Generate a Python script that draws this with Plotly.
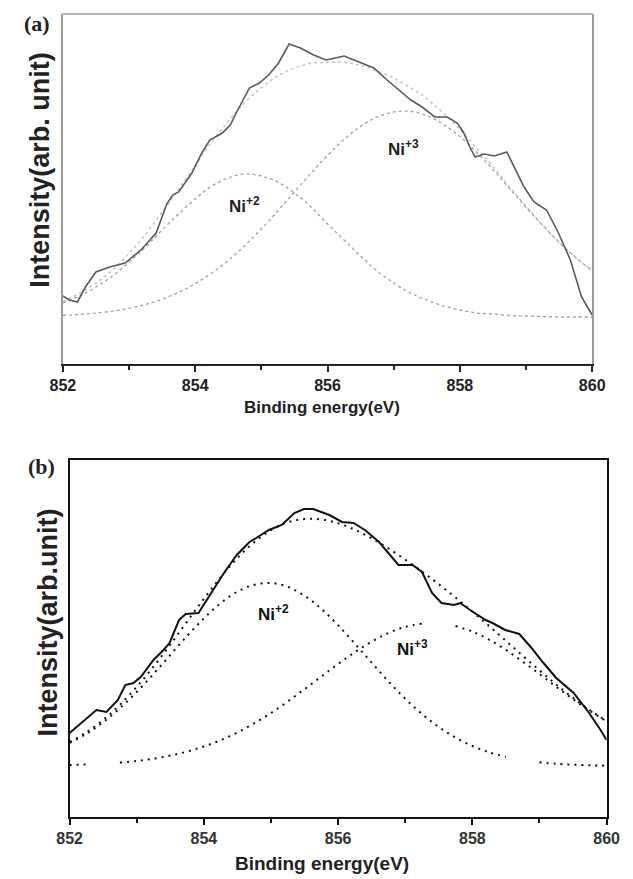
import plotly.graph_objects as go

# ---------------- data ----------------
energy_grid = [852.0, 852.25, 852.5, 852.75, 853.0, 853.25, 853.5, 853.75,
               854.0, 854.25, 854.5, 854.75, 855.0, 855.25, 855.5, 855.75,
               856.0, 856.25, 856.5, 856.75, 857.0, 857.25, 857.5, 857.75,
               858.0, 858.25, 858.5, 858.75, 859.0, 859.25, 859.5, 859.75, 860.0]

# panel (a)
a_exp_x = [852.00, 852.10, 852.22, 852.35, 852.50, 852.71, 852.94, 853.18, 853.41,
           853.57, 853.66, 853.75, 853.95, 854.10, 854.22, 854.41, 854.53, 854.62,
           854.82, 854.97, 855.11, 855.26, 855.42, 855.59, 855.79, 855.98, 856.25,
           856.50, 856.70, 856.90, 857.26, 857.43, 857.62, 857.81, 857.96, 858.06,
           858.15, 858.23, 858.37, 858.52, 858.71, 858.97, 859.12, 859.31, 859.49,
           859.67, 859.84, 860.00]
a_exp_y = [68, 64, 62, 78, 92, 97, 101, 114, 131,
           160, 169, 172, 191, 211, 224, 231, 239, 251,
           276, 281, 289, 301, 320, 316, 309, 304, 308,
           301, 296, 284, 264, 257, 247, 247, 241, 231,
           217, 207, 210, 208, 212, 177, 162, 154, 131,
           104, 67, 49]
a_ni2 = [61, 68, 77, 88, 102, 117, 134, 150, 165, 178, 186, 190, 188, 182, 171, 157,
         140, 124, 108, 93, 81, 71, 64, 58, 54, 51, 50, 48.5, 48, 47.5, 47, 47, 47]
a_ni3 = [48.6, 49.5, 50.9, 52.9, 55.7, 59.6, 64.8, 71.7, 80.3, 91, 103.7, 118.5, 135.2,
         153.1, 172, 190.8, 208.5, 224.6, 237.6, 247, 252, 252.6, 248.4, 239.8, 227.4,
         212, 194.5, 175.7, 156.8, 138.7, 121.7, 106.5, 93.4]
a_fit = [62.6, 70.5, 80.9, 93.9, 110.7, 129.6, 151.8, 174.7, 198.3, 222, 242.7, 261.5,
         276.2, 288.1, 296, 300.8, 301.5, 301.6, 298.6, 293, 286, 276.6, 265.4, 250.8,
         234.4, 216, 197.5, 177.2, 157.8, 139.2, 121.7, 106.5, 93.4]

# panel (b)
b_exp_x = [852.00, 852.17, 852.40, 852.55, 852.72, 852.83, 852.95, 853.06, 853.25,
           853.40, 853.49, 853.63, 853.73, 853.92, 854.11, 854.30, 854.49, 854.68,
           854.78, 854.97, 855.16, 855.35, 855.49, 855.63, 855.87, 856.06, 856.23,
           856.40, 856.61, 856.90, 857.11, 857.25, 857.40, 857.54, 857.73, 857.82,
           858.01, 858.20, 858.30, 858.49, 858.70, 858.87, 859.06, 859.25, 859.51,
           859.74, 859.91, 860.00]
b_exp_y = [84, 94, 107, 105, 117, 132, 134, 140, 157,
           167, 174, 197, 203, 204, 224, 244, 262, 275,
           279, 287, 292, 304, 308, 308, 302, 295, 294,
           287, 275, 252, 252, 245, 224, 214, 212, 214,
           205, 197, 194, 187, 183, 170, 154, 139, 124,
           104, 87, 77]
b_ni2 = [74.1, 83.2, 94.8, 108.8, 125, 143, 162, 181, 198.6, 213.8, 225.4, 232.2, 234,
         230.2, 221.2, 208.2, 191.8, 173.4, 154.3, 135.6, 118.3, 103, 90, 79.4, 71,
         64.7, 60.1, None, 54.7, 53.2, 52.3, 51.7, 51.3]
b_ni3 = [51.9, 52.5, None, 54.4, 56.1, 58.3, 61.4, 65.4, 70.5, 76.8, 84.5, 93.6, 103.9,
         115.5, 127.8, 140.4, 153, 164.8, 175.4, 184, 190.1, 193.4, None, 191, 185.4,
         177.3, 167.1, 155.4, 143, 130.2, 117.9, 106.2, 95.6]
b_fit = [75, 84.7, 97.1, 112.2, 130.1, 150.3, 172.4, 195.4, 218.1, 239.6, 258.9, 274.8,
         286.9, 294.7, 298, 297.6, 293.8, 287.2, 278.7, 268.6, 257.4, 245.4, 232.8,
         219.4, 205.4, 191, 176.2, 161.3, 146.7, 132.4, 119.2, 106.9, 95.9]

tick_vals = [852, 854, 856, 858, 860]
tick_text = ["852", "854", "856", "858", "860"]
minor_vals = [853, 855, 857, 859]

# ---------------- figure ----------------
fig = go.Figure()

# (a)
fig.add_trace(go.Scatter(x=energy_grid, y=a_ni2, mode="lines", xaxis="x", yaxis="y",
                         line=dict(color="#a0a0a0", width=1.3, dash="dot", shape="spline")))
fig.add_trace(go.Scatter(x=energy_grid, y=a_ni3, mode="lines", xaxis="x", yaxis="y",
                         line=dict(color="#a0a0a0", width=1.3, dash="dot", shape="spline")))
fig.add_trace(go.Scatter(x=energy_grid, y=a_fit, mode="lines", xaxis="x", yaxis="y",
                         line=dict(color="#bdbdbd", width=1.3, dash="dot", shape="spline")))
fig.add_trace(go.Scatter(x=a_exp_x, y=a_exp_y, mode="lines", xaxis="x", yaxis="y",
                         line=dict(color="#5a5a5a", width=1.6)))

# (b)
dot_style = dict(color="#111111", width=2, dash="2px,5px", shape="spline")
fig.add_trace(go.Scatter(x=energy_grid, y=b_ni2, mode="lines", xaxis="x2", yaxis="y2",
                         line=dot_style))
fig.add_trace(go.Scatter(x=energy_grid, y=b_ni3, mode="lines", xaxis="x2", yaxis="y2",
                         line=dot_style))
fig.add_trace(go.Scatter(x=energy_grid, y=b_fit, mode="lines", xaxis="x2", yaxis="y2",
                         line=dot_style))
fig.add_trace(go.Scatter(x=b_exp_x, y=b_exp_y, mode="lines", xaxis="x2", yaxis="y2",
                         line=dict(color="#111111", width=2)))

W, H = 633, 879
tickfont_a = dict(family="Liberation Sans, Arial", size=16, color="#222", weight="bold")
tickfont_b = dict(family="Liberation Sans, Arial", size=16, color="#333", weight="bold")

fig.update_layout(
    width=W, height=H,
    margin=dict(l=0, r=0, t=0, b=0),
    paper_bgcolor="white", plot_bgcolor="white",
    showlegend=False,
    xaxis=dict(domain=[52 / W, 604 / W], range=[852, 860], anchor="y",
               tickvals=tick_vals, ticktext=tick_text, ticks="outside", ticklen=6,
               tickwidth=1.5, tickcolor="#222", showline=True, linecolor="#222",
               linewidth=2, showgrid=False, zeroline=False, tickfont=tickfont_a,
               minor=dict(tickvals=minor_vals, ticks="outside", ticklen=4,
                          tickwidth=1.5, tickcolor="#222")),
    yaxis=dict(domain=[1 - 364 / H, 1 - 14 / H], range=[0, 350], anchor="x",
               showticklabels=False, ticks="", showline=True, linecolor="#9a9a9a",
               linewidth=1.5, mirror=True, showgrid=False, zeroline=False),
    xaxis2=dict(domain=[59 / W, 619 / W], range=[852, 860], anchor="y2",
                tickvals=tick_vals, ticktext=tick_text, ticks="outside", ticklen=6,
                tickwidth=1.5, tickcolor="#111", showline=True, linecolor="#111",
                linewidth=2, mirror=True, showgrid=False, zeroline=False,
                tickfont=tickfont_b,
                minor=dict(tickvals=minor_vals, ticks="outside", ticklen=4,
                           tickwidth=1.5, tickcolor="#111")),
    yaxis2=dict(domain=[1 - 817 / H, 1 - 460 / H], range=[0, 357], anchor="x2",
                showticklabels=False, ticks="", showline=True, linecolor="#111",
                linewidth=2, mirror=True, showgrid=False, zeroline=False),
    shapes=[dict(type="line", xref="x domain", yref="y domain", x0=0, x1=1, y0=1, y1=1,
                 line=dict(color="#9a9a9a", width=1.5))],
)

title_font = dict(family="Liberation Sans, Arial", size=17, color="#222", weight="bold")
ytitle_font = dict(family="Liberation Sans, Arial", size=27, color="#222", weight="bold")
lab_font = dict(family="Liberation Sans, Arial", size=17, color="#222", weight="bold")
panel_font = dict(family="Liberation Serif, Times New Roman", size=22, color="#222",
                  weight="bold")

ann = [
    dict(text="(a)", x=25 / W, y=1 - 24 / H),
    dict(text="(b)", x=30 / W, y=1 - 466 / H),
    dict(text="Binding energy(eV)", x=322 / W, y=1 - 407 / H, font=title_font),
    dict(text="Binding energy(eV)", x=322 / W, y=1 - 863 / H,
         font=dict(title_font, size=19)),
    dict(text="Intensity(arb. unit)", x=28 / W, y=1 - 170 / H, textangle=-90,
         font=ytitle_font),
    dict(text="Intensity(arb.unit)", x=37 / W, y=1 - 622 / H, textangle=-90,
         font=ytitle_font),
]
for a in ann:
    a.setdefault("font", panel_font)
    fig.add_annotation(xref="paper", yref="paper", showarrow=False,
                       xanchor="center", yanchor="middle", **a)

# component labels in data coordinates
fig.add_annotation(x=854.75, y=159, xref="x", yref="y", text="Ni<sup>+2</sup>",
                   showarrow=False, font=lab_font)
fig.add_annotation(x=857.15, y=216, xref="x", yref="y", text="Ni<sup>+3</sup>",
                   showarrow=False, font=lab_font)
fig.add_annotation(x=855.04, y=204, xref="x2", yref="y2", text="Ni<sup>+2</sup>",
                   showarrow=False, font=dict(lab_font, color="#111"))
fig.add_annotation(x=857.11, y=169, xref="x2", yref="y2", text="Ni<sup>+3</sup>",
                   showarrow=False, font=dict(lab_font, color="#111"))

fig.write_html("out.html")
